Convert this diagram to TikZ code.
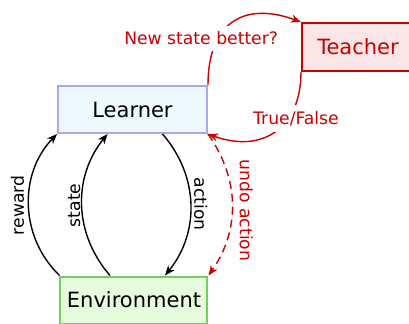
\documentclass[tikz,border=0pt]{standalone}
\usepackage{fontspec}
\setmainfont{DejaVu Sans}
\usepackage{tikz}
\usetikzlibrary{arrows.meta}

\definecolor{learnerdraw}{HTML}{A8A8F0}
\definecolor{learnerfill}{HTML}{EEF8FF}
\definecolor{teacherred}{HTML}{CC0000}
\definecolor{teacherfill}{HTML}{FAE6E6}
\definecolor{envdraw}{HTML}{77CC66}
\definecolor{envfill}{HTML}{E6FCDC}

\begin{document}
\begin{tikzpicture}[x=0.5pt, y=-0.5pt,
		>={Stealth[length=5pt,width=4pt,inset=1.5pt]},
		box_style/.style={rectangle,line width=1pt,inner sep=0pt,font=\fontsize{10.5}{12}\selectfont},
		label_style/.style={font=\fontsize{8.6}{10}\selectfont,inner sep=1.5pt},
		up_label/.style={label_style,rotate=90,anchor=south},
		down_label/.style={label_style,rotate=-90,anchor=south},
		edge_style/.style={draw=black,line width=0.7pt,->},
		red_edge_style/.style={draw=teacherred,text=teacherred,line width=0.7pt,->}]
		
		\useasboundingbox (0,0) rectangle (409,323);
		\clip (0,0) rectangle (409,323);
		
		\node[box_style,draw=learnerdraw,fill=learnerfill,minimum width=74.5pt,minimum height=23.5pt] (lrn) at (132.5,109.5) {Learner};
		\node[box_style,draw=teacherred,fill=teacherfill,text=teacherred,minimum width=56pt,minimum height=24pt] (tch) at (358,47) {Teacher};
		\node[box_style,draw=envdraw,fill=envfill,minimum width=73.5pt,minimum height=23.5pt] (env) at (134,300) {Environment};
		
		\draw[edge_style] (env.north west) to[bend left=45] node[up_label,inner sep=2pt]{reward} (lrn.south west);
		\draw[edge_style] ([xshift=-12pt]env.north) to[bend left=40] node[up_label,inner sep=0.5pt]{state} ([xshift=-12.5pt]lrn.south);
		\draw[edge_style] ([xshift=15pt]lrn.south) to[bend left=40] node[down_label]{action} ([xshift=15.5pt]env.north);
		\draw[red_edge_style,dash pattern=on 4pt off 2.5pt] (lrn.south east) to[bend left=35] node[down_label,pos=0.54,inner sep=3.5pt]{undo action} (env.north east);
		
		\draw[red_edge_style] (lrn.north east) to[out=90,in=160,looseness=1.4] node[label_style,pos=0.3,xshift=-8pt,yshift=1pt,fill=white,inner sep=3pt]{New state better?} (tch.north west);
		\draw[red_edge_style] (tch.south west) to[out=270,in=-20,looseness=1.3] node[label_style,pos=0.33,xshift=3.5pt,yshift=-0.5pt,fill=white,inner sep=3pt]{True/False} (lrn.south east);
		
\end{tikzpicture}
\end{document}
